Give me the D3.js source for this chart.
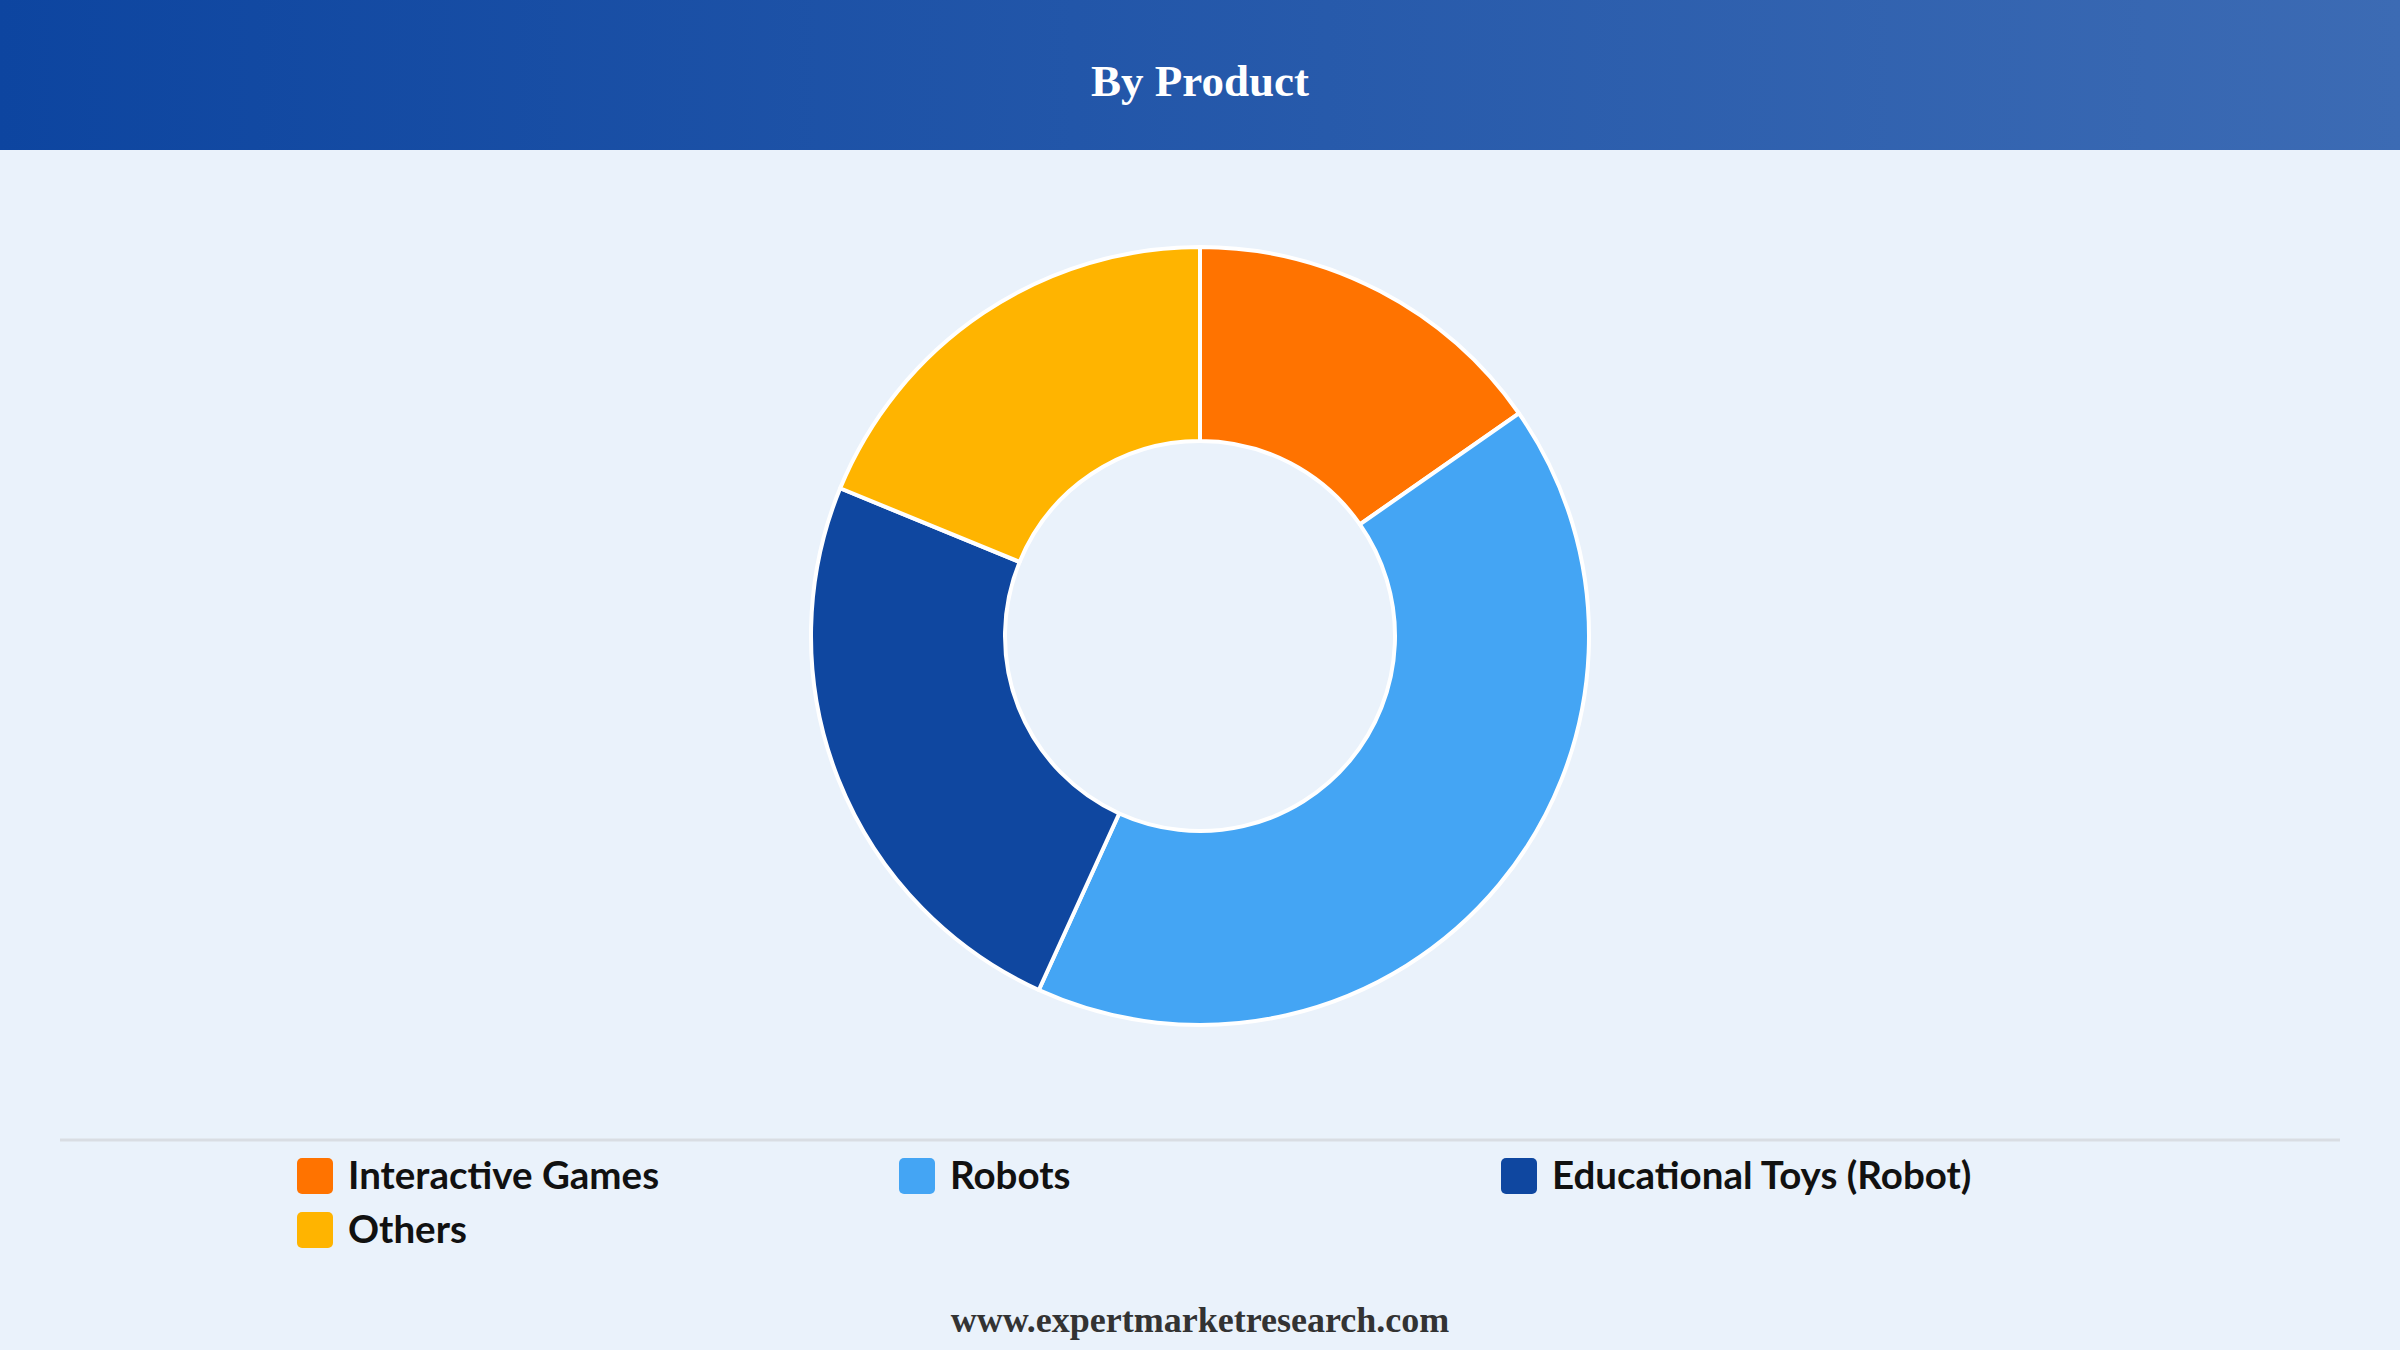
<!DOCTYPE html>
<html>
<head>
<meta charset="utf-8">
<script src="https://cdn.jsdelivr.net/npm/d3@7/dist/d3.min.js"></script>
<style>
  html, body { margin: 0; padding: 0; background: #EAF2FB; }
  svg { display: block; }
</style>
</head>
<body>
<svg id="chart" width="2400" height="1350"></svg>
<script>
const categories = ["Interactive Games", "Robots", "Educational Toys (Robot)", "Others"];
const values = [15.3, 41.5, 24.4, 18.8];
const colors = ["#FF7300", "#44A5F4", "#0F47A0", "#FFB400"];
const title = "By Product";
const footer = "www.expertmarketresearch.com";

const W = 2400, H = 1350;
const svg = d3.select("#chart");

const defs = svg.append("defs");
const grad = defs.append("linearGradient").attr("id", "hdr").attr("x1", "0%").attr("x2", "100%");
grad.append("stop").attr("offset", "0%").attr("stop-color", "#0D45A0");
grad.append("stop").attr("offset", "100%").attr("stop-color", "#3C6BB4");

svg.append("rect").attr("width", W).attr("height", H).attr("fill", "#EAF2FB");
svg.append("rect").attr("width", W).attr("height", 150).attr("fill", "url(#hdr)");
svg.append("text").attr("x", W / 2).attr("y", 96)
  .attr("text-anchor", "middle")
  .attr("font-family", "'Liberation Serif', 'Times New Roman', serif")
  .attr("font-weight", "bold").attr("font-size", 45).attr("fill", "#fff")
  .text(title);

const cx = 1200, cy = 636, rOuter = 389, rInner = 195;
const pie = d3.pie().sort(null).value(d => d)(values);
const arc = d3.arc().innerRadius(rInner).outerRadius(rOuter);
svg.append("g").attr("transform", `translate(${cx},${cy})`)
  .selectAll("path").data(pie).enter().append("path")
  .attr("d", arc)
  .attr("fill", (d, i) => colors[i])
  .attr("stroke", "#fff").attr("stroke-width", 4).attr("stroke-linejoin", "round");

svg.append("line").attr("x1", 60).attr("x2", 2340).attr("y1", 1140).attr("y2", 1140)
  .attr("stroke", "#D9DDE3").attr("stroke-width", 3);

const colX = d3.scalePoint().domain([0, 1, 2]).range([297, 1501]);
const leg = svg.append("g").selectAll("g").data(categories).enter().append("g")
  .attr("transform", (d, i) => `translate(${colX(i % 3)},${1158 + Math.floor(i / 3) * 54})`);
leg.append("rect").attr("width", 36).attr("height", 36).attr("rx", 5)
  .attr("fill", (d, i) => colors[i]);
leg.append("text").attr("x", 51).attr("y", 31)
  .attr("font-family", "Lato, 'Open Sans', sans-serif")
  .attr("font-weight", "bold").attr("font-size", 38.5).attr("fill", "#111")
  .text(d => d);

svg.append("text").attr("x", W / 2).attr("y", 1332)
  .attr("text-anchor", "middle")
  .attr("font-family", "'Liberation Serif', 'Times New Roman', serif")
  .attr("font-weight", "bold").attr("font-size", 36).attr("fill", "#333")
  .text(footer);
</script>
</body>
</html>
